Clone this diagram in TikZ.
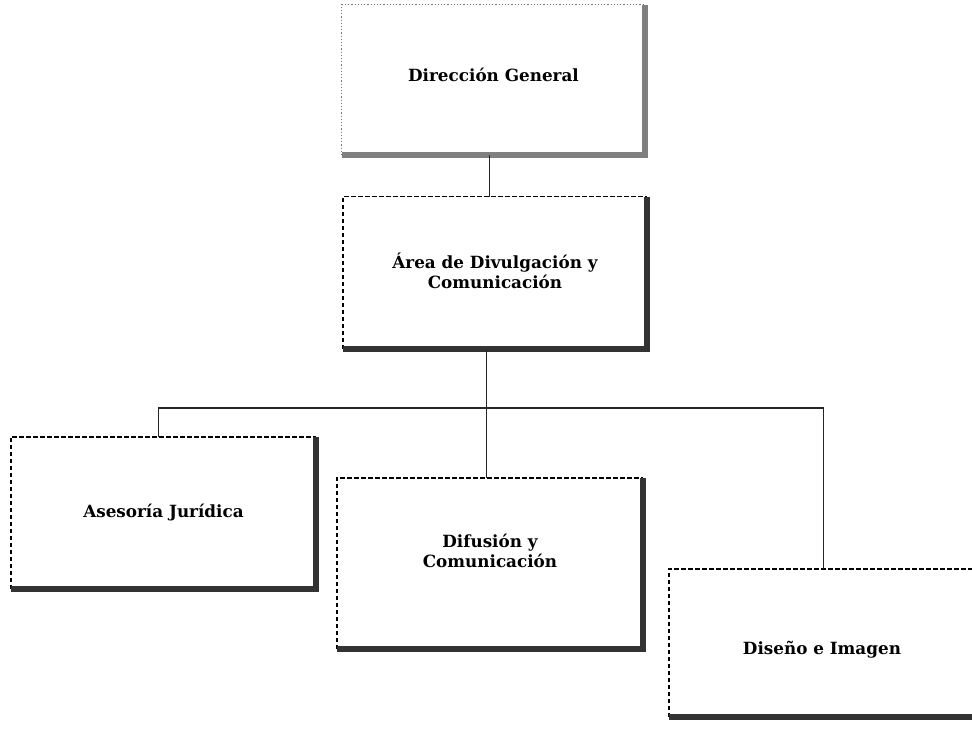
\documentclass[tikz,border=0pt]{standalone}
\usepackage{fontspec}
\setmainfont{DejaVu Serif}
\begin{document}
\begin{tikzpicture}[x=1pt,y=1pt,
  orgbox/.style={rectangle, inner sep=0pt, fill=white},
  dashedge/.style={draw=black, line width=1.4pt, dash pattern=on 4.5pt off 2.5pt},
  dotedge/.style={draw=black!55, line width=0.9pt, dash pattern=on 1.2pt off 2pt},
  shadowedge/.style={draw=black!80, line width=6pt},
  lightshadow/.style={draw=black!50, line width=6pt},
  lbl/.style={font=\bfseries\fontsize{16.8}{20}\selectfont, align=center, inner sep=0pt},
  conn/.style={draw=black!85, line width=1pt}
]
\useasboundingbox (0,0) rectangle (972,732);
% boxes
\node[orgbox, minimum width=303, minimum height=150] (dg) at (493.5,652) {};
\node[orgbox, minimum width=304, minimum height=152] (area) at (495,459) {};
\node[orgbox, minimum width=305, minimum height=152] (aj) at (163.5,219) {};
\node[orgbox, minimum width=306, minimum height=171] (dc) at (490,168.5) {};
\node[orgbox, minimum width=306, minimum height=148] (di) at (822,89) {};
% borders
\draw[dotedge] (dg.south west) |- (dg.north east);
\draw[lightshadow] (dg.south west) -| (dg.north east);
\foreach \b in {area,aj,dc,di}{
  \draw[dashedge] (\b.south west) |- (\b.north east);
  \draw[shadowedge] (\b.south west) -| (\b.north east);
}
% labels
\node[lbl] (dgt) at ([yshift=5]dg.center) {Dirección General};
\node[lbl] (areat) at ([yshift=2]area.center) {Área de Divulgación y\\Comunicación};
\node[lbl] (ajt) at (aj.center) {Asesoría Jurídica};
\node[lbl] (dct) at ([yshift=13]dc.center) {Difusión y\\Comunicación};
\node[lbl] (dit) at ([yshift=-7]di.center) {Diseño e Imagen};
% connectors
\coordinate (bus) at (486,324);
\draw[conn] ([xshift=-4.5]dg.south) -- ([xshift=-6]area.north);
\draw[conn] ([xshift=-9]area.south) -- (bus);
\draw[conn] (bus) -| (aj.north -| 158,0);
\draw[conn] (bus) -| (di.north -| 823,0);
\draw[conn] (bus) -- (dc.north -| 486,0);
\end{tikzpicture}
\end{document}
